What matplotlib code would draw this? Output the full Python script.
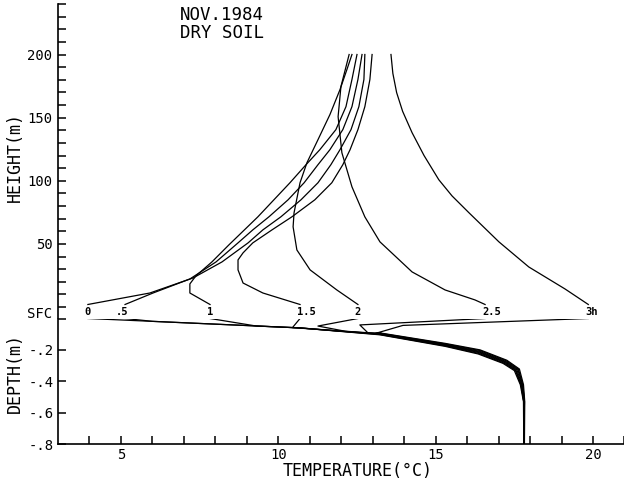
import matplotlib
matplotlib.use("Agg")
import matplotlib.pyplot as plt

plt.rcParams["font.family"] = ["DejaVu Sans Mono"]

# ---------------- data ----------------
time_labels = ["0", ".5", "1", "1.5", "2", "2.5", "3h"]
label_anchor_char = [0, 1, 0, 0, 0, 0, 0]

# air temperature profiles (deg C) vs height (m)
air_T_0 = [3.95, 5.92, 7.29, 8.21, 9.04, 9.51, 10.08, 10.72, 11.26, 11.67, 11.96, 12.31, 12.56, 12.72, 12.75]
air_h_0 = [2, 11.1, 23.0, 35.7, 50.8, 61.1, 71.4, 84.9, 98.4, 112.7, 124.6, 140.5, 158.7, 180.2, 200]

air_T_05 = [5.13, 6.02, 7.19, 8.02, 8.72, 9.19, 9.70, 10.31, 10.82, 11.26, 11.64, 12.05, 12.34, 12.53, 12.66]
air_h_05 = [2, 11.1, 22.2, 35.7, 50.8, 61.1, 71.4, 84.9, 98.4, 112.7, 124.6, 140.5, 158.7, 180.2, 200]

air_T_1 = [7.83, 7.19, 7.19, 7.38, 7.89, 8.43, 9.35, 10.37, 10.88, 11.32, 11.83, 12.15, 12.34, 12.50]
air_h_1 = [2, 11.1, 18.3, 24.6, 35.7, 49.2, 71.4, 98.4, 112.7, 124.6, 140.5, 158.7, 180.2, 200]

air_T_15 = [10.69, 9.51, 8.88, 8.72, 8.72, 8.88, 9.19, 9.80, 10.43, 11.16, 11.70, 12.05, 12.28,
            12.53, 12.75, 12.91, 12.98]
air_h_15 = [2, 11.1, 19.0, 29.4, 37.3, 42.9, 50.8, 61.1, 71.4, 84.9, 98.4, 112.7, 124.6,
            140.5, 158.7, 180.2, 200]

air_T_2 = [12.53, 11.86, 11.01, 10.59, 10.47, 10.50, 10.69, 10.91, 11.26, 11.64, 11.96, 12.18, 12.34]
air_h_2 = [2, 13.5, 29.4, 45.2, 63.5, 74.6, 98.4, 114.3, 132.5, 152.4, 172.2, 188.1, 200]

air_T_25 = [16.57, 16.25, 15.30, 14.25, 13.23, 12.75, 12.34, 12.02, 11.90, 11.99, 12.25]
air_h_25 = [2, 5.6, 13.5, 27.8, 51.6, 71.4, 95.2, 122.2, 150.8, 174.6, 200]

air_T_3 = [19.85, 19.11, 17.96, 17.01, 16.06, 15.52, 15.10, 14.63, 14.25, 13.95, 13.76, 13.64, 13.58]
air_h_3 = [2, 14.3, 31.7, 51.6, 74.6, 88.0, 100.8, 120.0, 138.1, 155.0, 169.8, 185.0, 200]

# soil temperature profiles (deg C) vs depth (m)
soil_T_0 = [3.95, 10.69, 13.23, 15.30, 16.35, 17.14, 17.50, 17.69, 17.79, 17.80]
soil_d_0 = [0.0, -0.060, -0.104, -0.1775, -0.226, -0.286, -0.332, -0.422, -0.53, -0.80]

soil_T_05 = [5.13, 6.00, 10.69, 13.23, 15.30, 16.36, 17.16, 17.53, 17.71, 17.80, 17.80]
soil_d_05 = [0.0, -0.018, -0.060, -0.102, -0.174, -0.222, -0.283, -0.330, -0.422, -0.53, -0.80]

soil_T_1 = [7.83, 9.30, 10.69, 13.23, 15.30, 16.37, 17.18, 17.55, 17.72, 17.80, 17.81]
soil_d_1 = [0.0, -0.048, -0.060, -0.100, -0.171, -0.217, -0.279, -0.329, -0.422, -0.53, -0.80]

soil_T_15 = [10.69, 10.45, 13.23, 15.30, 16.38, 17.20, 17.58, 17.74, 17.81, 17.81]
soil_d_15 = [0.0, -0.058, -0.098, -0.168, -0.213, -0.276, -0.327, -0.422, -0.53, -0.80]

soil_T_2 = [12.53, 11.26, 12.12, 13.23, 15.30, 16.39, 17.22, 17.61, 17.76, 17.82, 17.81]
soil_d_2 = [0.0, -0.048, -0.081, -0.096, -0.165, -0.209, -0.273, -0.325, -0.422, -0.53, -0.80]

soil_T_25 = [16.57, 12.59, 12.85, 13.23, 15.30, 16.40, 17.24, 17.63, 17.77, 17.82, 17.81]
soil_d_25 = [0.0, -0.041, -0.092, -0.094, -0.162, -0.204, -0.269, -0.323, -0.422, -0.53, -0.80]

soil_T_3 = [19.85, 13.96, 13.07, 13.23, 15.30, 16.41, 17.26, 17.66, 17.79, 17.83, 17.82]
soil_d_3 = [0.0, -0.044, -0.096, -0.092, -0.1585, -0.200, -0.266, -0.322, -0.422, -0.53, -0.80]

air_T = [air_T_0, air_T_05, air_T_1, air_T_15, air_T_2, air_T_25, air_T_3]
air_h = [air_h_0, air_h_05, air_h_1, air_h_15, air_h_2, air_h_25, air_h_3]
soil_T = [soil_T_0, soil_T_05, soil_T_1, soil_T_15, soil_T_2, soil_T_25, soil_T_3]
soil_d = [soil_d_0, soil_d_05, soil_d_1, soil_d_15, soil_d_2, soil_d_25, soil_d_3]

height_ticks = list(range(0, 241, 10))
height_labels = {50: "50", 100: "100", 150: "150", 200: "200"}
depth_ticks = [0, -0.2, -0.4, -0.6, -0.8]
depth_labels = ["", "-.2", "-.4", "-.6", "-.8"]
temp_ticks = list(range(4, 22))
temp_labels = {5: "5", 10: "10", 15: "15", 20: "20"}

# ---------------- figure ----------------
W, H = 624, 484
fig = plt.figure(figsize=(W / 100, H / 100), dpi=100)
left = 58 / W
width = 566.5 / W
ax_up = fig.add_axes([left, 1 - 318.5 / H, width, (318.5 - 4) / H])
ax_dn = fig.add_axes([left, 1 - 444 / H, width, (444 - 318.5) / H])

lw = 0.9
for T, h in zip(air_T, air_h):
    ax_up.plot(T, h, color="black", lw=lw, solid_joinstyle="round")
for T, d in zip(soil_T, soil_d):
    ax_dn.plot(T, d, color="black", lw=lw, solid_joinstyle="round")

ax_up.set_xlim(3, 21)
ax_up.set_ylim(-9.1, 240)
ax_dn.set_xlim(3, 21)
ax_dn.set_ylim(-0.8, 0)

for s in ["top", "right", "bottom"]:
    ax_up.spines[s].set_visible(False)
for s in ["top", "right"]:
    ax_dn.spines[s].set_visible(False)
for ax in (ax_up, ax_dn):
    for s in ax.spines.values():
        s.set_linewidth(1.2)

ax_up.set_yticks(height_ticks)
ax_up.set_yticklabels([height_labels.get(t, "") for t in height_ticks])
ax_up.tick_params(axis="y", direction="in", length=6, width=1.1, labelsize=10, pad=4)
ax_up.tick_params(axis="x", bottom=False, labelbottom=False)

ax_dn.set_yticks(depth_ticks)
ax_dn.set_yticklabels(depth_labels)
ax_dn.set_xticks(temp_ticks)
ax_dn.set_xticklabels([temp_labels.get(t, "") for t in temp_ticks])
ax_dn.tick_params(axis="both", direction="in", length=6, width=1.1, labelsize=10, pad=3)

# surface label
ax_up.text(-0.011, -5.6, "SFC", transform=ax_up.get_yaxis_transform(),
           ha="right", va="center", fontsize=10)

# time labels at the surface
char_w_pt = 0.602 * 7.5
for lab, T, k in zip(time_labels, air_T, label_anchor_char):
    ax_up.annotate(lab, xy=(T[0], -4), xytext=(-(k + 0.5) * char_w_pt, 0),
                   textcoords="offset points", ha="left", va="center",
                   fontsize=7.5, fontweight="bold", annotation_clip=False)

fig.text(15 / W, 1 - 157 / H, "HEIGHT(m)", rotation=90, ha="center", va="center", fontsize=12)
fig.text(15 / W, 1 - 373 / H, "DEPTH(m)", rotation=90, ha="center", va="center", fontsize=12)
fig.text(358 / W, 1 - 471 / H, "TEMPERATURE(°C)", ha="center", va="center", fontsize=12)
fig.text(180 / W, 1 - 6 / H, "NOV.1984\nDRY SOIL", ha="left", va="top", fontsize=12.5,
         linespacing=1.0)

fig.savefig("out.png", dpi=100)
